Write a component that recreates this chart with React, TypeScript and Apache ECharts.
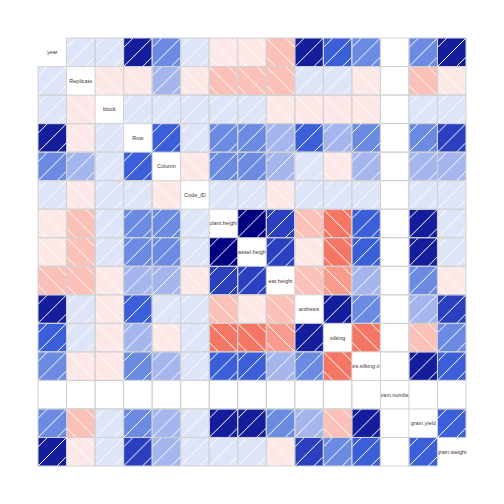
import React, { useEffect, useRef } from "react";
import * as echarts from "echarts";

const variables = [
  "year", "Replicate", "block", "Row", "Column", "Code_ID",
  "plant.height", "tassel.height", "ear.height", "anthesis", "silking",
  "anthesis.silking.interval", "grain.number", "grain.yield", "grain.weight",
];

// correlation rows (null = NA)
const rowYear = [1, 0.08, 0.08, 0.85, 0.45, 0.08, -0.08, -0.08, -0.28, 0.85, 0.6, 0.45, null, 0.45, 0.85];
const rowReplicate = [0.08, 1, -0.08, -0.08, 0.3, -0.08, -0.28, -0.28, -0.28, 0.08, 0.08, -0.08, null, -0.28, -0.08];
const rowBlock = [0.08, -0.08, 1, 0.08, 0.08, 0.08, 0.08, 0.08, -0.08, -0.08, -0.08, -0.08, null, 0.08, 0.08];
const rowRow = [0.85, -0.08, 0.08, 1, 0.6, 0.08, 0.45, 0.45, 0.3, 0.6, 0.3, 0.45, null, 0.45, 0.72];
const rowColumn = [0.45, 0.3, 0.08, 0.6, 1, -0.08, 0.45, 0.45, 0.3, 0.08, -0.08, 0.3, null, 0.3, 0.3];
const rowCodeID = [0.08, -0.08, 0.08, 0.08, -0.08, 1, 0.08, 0.08, -0.08, 0.08, 0.08, 0.08, null, 0.08, 0.08];
const rowPlantHeight = [-0.08, -0.28, 0.08, 0.45, 0.45, 0.08, 1, 0.97, 0.72, -0.28, -0.6, 0.6, null, 0.85, 0.08];
const rowTasselHeight = [-0.08, -0.28, 0.08, 0.45, 0.45, 0.08, 0.97, 1, 0.72, -0.08, -0.6, 0.6, null, 0.85, 0.08];
const rowEarHeight = [-0.28, -0.28, -0.08, 0.3, 0.3, -0.08, 0.72, 0.72, 1, -0.28, -0.45, 0.3, null, 0.45, -0.08];
const rowAnthesis = [0.85, 0.08, -0.08, 0.6, 0.08, 0.08, -0.28, -0.08, -0.28, 1, 0.85, 0.45, null, 0.3, 0.72];
const rowSilking = [0.6, 0.08, -0.08, 0.3, -0.08, 0.08, -0.6, -0.6, -0.45, 0.85, 1, -0.6, null, -0.28, 0.45];
const rowASI = [0.45, -0.08, -0.08, 0.45, 0.3, 0.08, 0.6, 0.6, 0.3, 0.45, -0.6, 1, null, 0.85, 0.6];
const rowGrainNumber = [null, null, null, null, null, null, null, null, null, null, null, null, 1, null, null];
const rowGrainYield = [0.45, -0.28, 0.08, 0.45, 0.3, 0.08, 0.85, 0.85, 0.45, 0.3, -0.28, 0.85, null, 1, 0.6];
const rowGrainWeight = [0.85, -0.08, 0.08, 0.72, 0.3, 0.08, 0.08, 0.08, -0.08, 0.72, 0.45, 0.6, null, 0.6, 1];

const matrix = [
  rowYear, rowReplicate, rowBlock, rowRow, rowColumn, rowCodeID, rowPlantHeight,
  rowTasselHeight, rowEarHeight, rowAnthesis, rowSilking, rowASI, rowGrainNumber,
  rowGrainYield, rowGrainWeight,
];

export default function App() {
  const ref = useRef<HTMLDivElement>(null);
  useEffect(() => {
    if (!ref.current) return;
    const chart = echarts.init(ref.current, null, { renderer: "svg" });

    const cellData: number[][] = [];
    matrix.forEach((row, r) => {
      row.forEach((v, c) => {
        if (r === c) return;
        cellData.push([c, r, v == null ? 0 : v, v == null ? 1 : 0]);
      });
    });
    const labelData = variables.map((_, i) => [i, i]);

    const gridColor = "#d2d2d2";

    chart.setOption({
      animation: false,
      backgroundColor: "#ffffff",
      grid: { left: 38, top: 38, width: 428, height: 428 },
      xAxis: { type: "category", data: variables, show: false },
      yAxis: { type: "category", data: variables, show: false, inverse: true },
      visualMap: {
        type: "piecewise",
        show: false,
        dimension: 2,
        seriesIndex: 1,
        pieces: [
          { gte: 0.92, color: "#000080" },
          { gte: 0.78, lt: 0.92, color: "#141e9c" },
          { gte: 0.66, lt: 0.78, color: "#2a40bf" },
          { gte: 0.52, lt: 0.66, color: "#3b5fd9" },
          { gte: 0.38, lt: 0.52, color: "#6b8be3" },
          { gte: 0.2, lt: 0.38, color: "#a5b6ef" },
          { gte: 0, lt: 0.2, color: "#dfe5f8" },
          { gte: -0.2, lt: 0, color: "#fde8e8" },
          { gte: -0.38, lt: -0.2, color: "#fbc1b9" },
          { gte: -0.52, lt: -0.38, color: "#f99b8d" },
          { lt: -0.52, color: "#f47766" },
        ],
      },
      series: [
        {
          type: "custom",
          z: 1,
          data: labelData,
          renderItem: (params: any, api: any) => {
            const i = api.value(0);
            const c = api.coord([i, api.value(1)]);
            return {
              type: "text",
              x: c[0],
              y: c[1],
              style: {
                text: variables[i],
                fontSize: 5.5,
                fontFamily: "Liberation Sans, Arial, sans-serif",
                fill: "#4a3434",
                align: "center",
                verticalAlign: "middle",
              },
            };
          },
        },
        {
          type: "custom",
          z: 2,
          data: cellData,
          renderItem: (params: any, api: any) => {
            const i = api.value(0);
            const j = api.value(1);
            const v = api.value(2);
            const na = api.value(3);
            const c = api.coord([i, j]);
            const s = api.size([1, 1]);
            const w = s[0], h = s[1];
            const x0 = c[0] - w / 2, y0 = c[1] - h / 2;
            const children: any[] = [
              {
                type: "rect",
                shape: { x: x0, y: y0, width: w, height: h },
                style: { fill: na ? "#ffffff" : api.visual("color"), stroke: null },
              },
            ];
            if (!na) {
              const segs =
                v >= 0
                  ? [
                      [x0, y0 + h / 3, x0 + w / 3, y0],
                      [x0, y0 + h, x0 + w, y0],
                      [x0 + (2 * w) / 3, y0 + h, x0 + w, y0 + (2 * h) / 3],
                    ]
                  : [
                      [x0 + (2 * w) / 3, y0, x0 + w, y0 + h / 3],
                      [x0, y0, x0 + w, y0 + h],
                      [x0, y0 + (2 * h) / 3, x0 + w / 3, y0 + h],
                    ];
              segs.forEach((sg) => {
                children.push({
                  type: "line",
                  shape: { x1: sg[0], y1: sg[1], x2: sg[2], y2: sg[3] },
                  style: { stroke: "#ffffff", lineWidth: 1 },
                });
              });
            }
            return { type: "group", children };
          },
        },
        {
          type: "custom",
          z: 3,
          data: cellData,
          renderItem: (params: any, api: any) => {
            const c = api.coord([api.value(0), api.value(1)]);
            const s = api.size([1, 1]);
            return {
              type: "rect",
              shape: { x: c[0] - s[0] / 2, y: c[1] - s[1] / 2, width: s[0], height: s[1] },
              style: { fill: null, stroke: gridColor, lineWidth: 1 },
            };
          },
        },
      ],
    });
    return () => chart.dispose();
  }, []);
  return (
    <div
      ref={ref}
      style={{ position: "fixed", left: 0, top: 0, width: 504, height: 504, background: "#fff" }}
    />
  );
}
